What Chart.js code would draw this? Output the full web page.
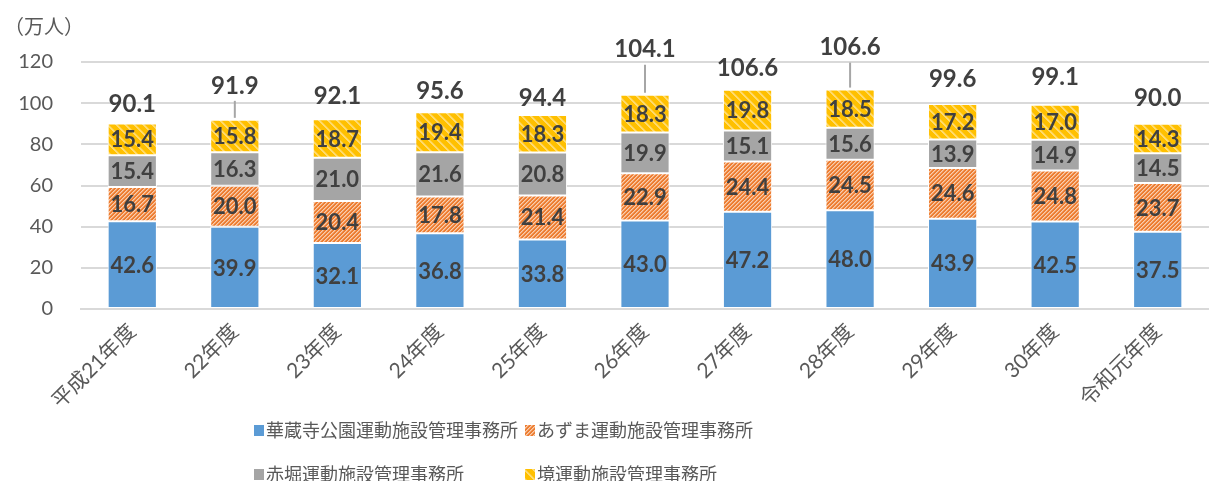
<!DOCTYPE html>
<html lang="ja">
<head>
<meta charset="utf-8">
<title>運動施設 利用者数の推移</title>
<script src="https://cdn.jsdelivr.net/npm/chart.js@4.4.1/dist/chart.umd.min.js"></script>
<style>
  html, body { margin: 0; padding: 0; background: #ffffff; }
  #wrap { position: relative; width: 1209px; height: 481px; }
  canvas { display: block; }
</style>
</head>
<body>
<div id="wrap"><canvas id="chart" width="1209" height="481"></canvas></div>
<script>
// 年度
const categories = ['平成21年度', '22年度', '23年度', '24年度', '25年度', '26年度', '27年度', '28年度', '29年度', '30年度', '令和元年度'];

// 施設別の利用者数（万人）
const kezoji = [42.6, 39.9, 32.1, 36.8, 33.8, 43.0, 47.2, 48.0, 43.9, 42.5, 37.5];
const azuma  = [16.7, 20.0, 20.4, 17.8, 21.4, 22.9, 24.4, 24.5, 24.6, 24.8, 23.7];
const akabori = [15.4, 16.3, 21.0, 21.6, 20.8, 19.9, 15.1, 15.6, 13.9, 14.9, 14.5];
const sakai  = [15.4, 15.8, 18.7, 19.4, 18.3, 18.3, 19.8, 18.5, 17.2, 17.0, 14.3];

// 合計（万人）
const totals = [90.1, 91.9, 92.1, 95.6, 94.4, 104.1, 106.6, 106.6, 99.6, 99.1, 90.0];

// 縦軸目盛
const yTicks = [0, 20, 40, 60, 80, 100, 120];

const seriesNames = ['華蔵寺公園運動施設管理事務所', 'あずま運動施設管理事務所', '赤堀運動施設管理事務所', '境運動施設管理事務所'];

const canvas = document.getElementById('chart');
const ctx = canvas.getContext('2d');

// 斜線の塗りパターン
function stripePattern(size, base, light, mid, dir, lightSteps, midSteps) {
  const t = document.createElement('canvas');
  t.width = size; t.height = size;
  const tc = t.getContext('2d');
  const img = tc.createImageData(size, size);
  const hex = h => [parseInt(h.slice(1, 3), 16), parseInt(h.slice(3, 5), 16), parseInt(h.slice(5, 7), 16)];
  const cb = hex(base), cl = hex(light), cm = hex(mid);
  for (let y = 0; y < size; y++) {
    for (let x = 0; x < size; x++) {
      const k = dir === '/' ? (x + y) % size : ((x - y) % size + size) % size;
      let c = cb;
      if (lightSteps.includes(k)) c = cl;
      else if (midSteps.includes(k)) c = cm;
      const i = (y * size + x) * 4;
      img.data[i] = c[0]; img.data[i + 1] = c[1]; img.data[i + 2] = c[2]; img.data[i + 3] = 255;
    }
  }
  tc.putImageData(img, 0, 0);
  return ctx.createPattern(t, 'repeat');
}

const orangeFill = stripePattern(4, '#ED7D31', '#F9CDAE', '#F3A874', '/', [0], [1]);
const yellowFill = stripePattern(9, '#FFC000', '#FFDB6E', '#FFCD3A', '\\', [0, 1], [2]);

const fillColors = ['#5B9BD5', orangeFill, '#A5A5A5', yellowFill];
const seriesValues = [kezoji, azuma, akabori, sakai];

const jpFont = "Lato, 'Noto Sans CJK JP', sans-serif";

// 合計ラベルの持ち上げ量と引き出し線
const totalLift = [19, 34, 23, 21, 16, 45, 21, 42, 25, 28, 25];
const totalLeader = [false, true, false, false, false, true, false, true, false, false, false];

const segmentLabels = {
  id: 'segmentLabels',
  afterDatasetsDraw(chart) {
    const c = chart.ctx;
    c.save();
    c.font = "bold 22px " + jpFont;
    c.fillStyle = '#404040';
    c.textAlign = 'center';
    c.textBaseline = 'middle';
    chart.data.datasets.forEach((ds, di) => {
      const meta = chart.getDatasetMeta(di);
      meta.data.forEach((el, i) => {
        const yc = (el.y + el.base) / 2;
        c.fillText(ds.data[i].toFixed(1), el.x, yc + 1);
      });
    });
    // 合計
    const ys = chart.scales.y;
    const meta0 = chart.getDatasetMeta(0);
    c.font = "bold 24px " + jpFont;
    totals.forEach((v, i) => {
      const x = meta0.data[i].x;
      const top = ys.getPixelForValue(v);
      const ly = top - totalLift[i];
      if (totalLeader[i]) {
        c.strokeStyle = '#A6A6A6';
        c.lineWidth = 2;
        c.beginPath();
        c.moveTo(x, ly + 15);
        c.lineTo(x, top - 2);
        c.stroke();
      }
      c.fillText(v.toFixed(1), x, ly);
    });
    c.restore();
  }
};

const extras = {
  id: 'extras',
  afterDraw(chart) {
    const c = chart.ctx;
    c.save();
    // 単位
    c.font = "20px 'Noto Sans CJK JP', sans-serif";
    c.fillStyle = '#595959';
    c.textAlign = 'left';
    c.textBaseline = 'middle';
    c.fillText('（万人）', 4, 26);
    // 凡例
    const pos = [[254, 430], [525, 430], [254, 474], [525, 474]];
    c.font = "18px 'Noto Sans CJK JP', sans-serif";
    chart.data.datasets.forEach((ds, i) => {
      const [bx, by] = pos[i];
      c.fillStyle = ds.backgroundColor;
      c.fillRect(bx, by - 5, 10, 11);
      c.fillStyle = '#595959';
      c.fillText(ds.label, bx + 12, by);
    });
    c.restore();
  }
};

new Chart(ctx, {
  type: 'bar',
  data: {
    labels: categories,
    datasets: seriesValues.map((vals, i) => ({
      label: seriesNames[i],
      data: vals,
      backgroundColor: fillColors[i],
      borderColor: '#FFFFFF',
      borderWidth: 1,
      borderSkipped: false,
      categoryPercentage: 1,
      barPercentage: 0.48
    }))
  },
  options: {
    responsive: false,
    devicePixelRatio: 1,
    animation: false,
    layout: { padding: { top: 62, right: 0, bottom: 72, left: 0 } },
    plugins: {
      legend: { display: false },
      tooltip: { enabled: false }
    },
    scales: {
      x: {
        stacked: true,
        grid: { display: false, drawTicks: false },
        border: { display: true, color: '#D9D9D9', width: 2 },
        ticks: {
          color: '#595959',
          font: { size: 21, family: jpFont },
          minRotation: 45,
          maxRotation: 45,
          padding: 10,
          autoSkip: false
        },
        afterFit(scale) { scale.height = 100; }
      },
      y: {
        stacked: true,
        min: 0,
        max: 120,
        afterBuildTicks(scale) { scale.ticks = yTicks.map(v => ({ value: v })); },
        grid: { color: '#D9D9D9', lineWidth: 2, drawTicks: false },
        border: { display: false },
        ticks: {
          color: '#595959',
          font: { size: 20, family: jpFont },
          padding: 28
        },
        afterFit(scale) { scale.width = 81; }
      }
    }
  },
  plugins: [segmentLabels, extras]
});
</script>
</body>
</html>
